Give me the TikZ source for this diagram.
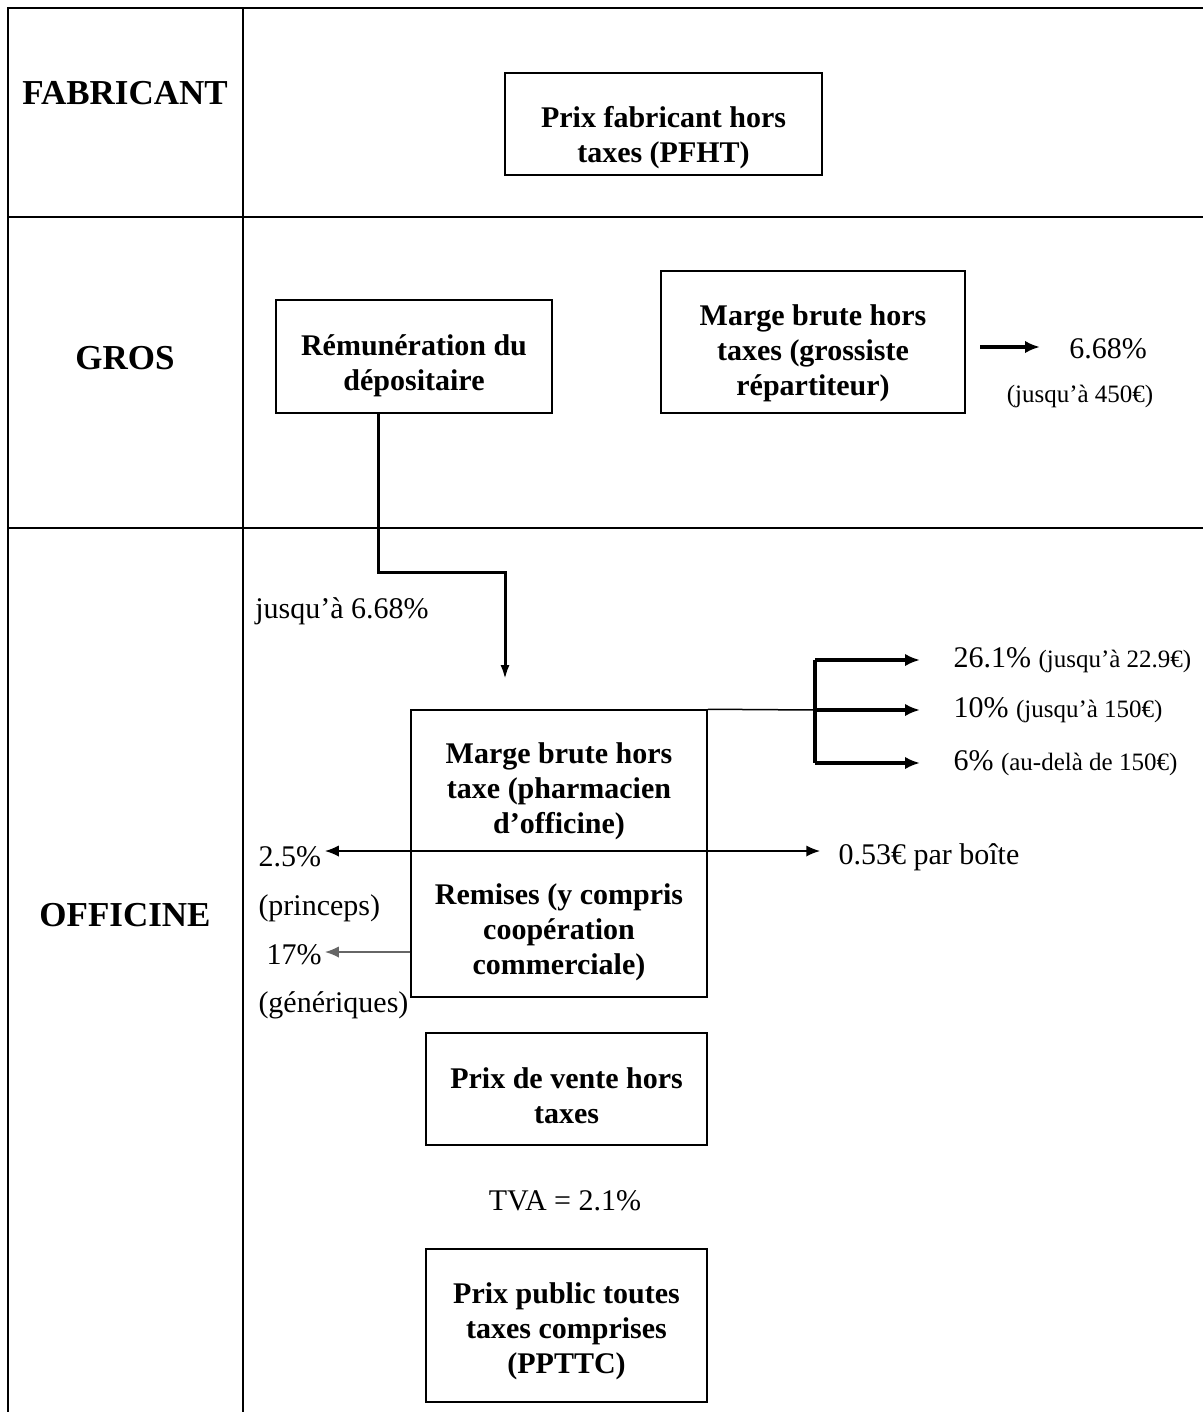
\documentclass[tikz,border=0pt]{standalone}
\usepackage{fontspec}
\setmainfont{Liberation Serif}
\usetikzlibrary{arrows.meta}

\tikzstyle{cell}=[line width=0.6pt]
\tikzstyle{box}=[draw, line width=0.6pt, inner sep=0pt]
\tikzstyle{boxtext}=[inner sep=0pt, align=center, font=\bfseries\fontsize{12}{14}\selectfont]
\tikzstyle{role}=[font=\bfseries\fontsize{14}{16}\selectfont, inner sep=0pt]
\tikzstyle{rate}=[font=\fontsize{12}{14}\selectfont, inner sep=0pt]
\tikzstyle{note}=[font=\fontsize{10}{12}\selectfont, inner sep=0pt]
\tikzstyle{flow}=[line width=1.3pt, -{Latex[length=6pt,width=5pt]}]
\tikzstyle{thinflow}=[line width=0.6pt]

\begin{document}
\begin{tikzpicture}[x=0.4pt, y=-0.4pt, >={Latex[length=5.5pt,width=4.5pt]}]
			\useasboundingbox (0,0) rectangle (1203,1412);
			%The table lines
			\draw[cell] (8,1412) -- (8,8) -- (1203,8);
			\draw[cell] (243,8) -- (243,1412);
			\foreach \y in {217,528}
			\draw[cell] (8,\y) -- (1203,\y);
			%The row titles
			\foreach \pos/\name/\txt in {{(125,93)/fab/FABRICANT}, {(125,358)/gros/GROS}, {(125,915)/offi/OFFICINE}}
			\node[role] (\name) at \pos {\txt};
			%The price boxes
			\node[box, minimum width=126.8pt, minimum height=40.8pt, label={[boxtext, yshift=-5.6pt]center:{Prix fabricant hors\\taxes (PFHT)}}] (pfht) at (663.5,124) {};
			\node[box, minimum width=110.4pt, minimum height=45.2pt, label={[boxtext, yshift=-3.8pt]center:{Rémunération du\\dépositaire}}] (remu) at (414,356.5) {};
			\node[box, minimum width=121.6pt, minimum height=56.8pt, label={[boxtext, yshift=-4.4pt]center:{Marge brute hors\\taxes (grossiste\\répartiteur)}}] (margeG) at (813,342) {};
			\node[box, minimum width=118.4pt, minimum height=56.4pt, label={[boxtext, yshift=-4.4pt]center:{Marge brute hors\\taxe (pharmacien\\d’officine)}}] (margeP) at (559,780.5) {};
			\node[box, minimum width=118.4pt, minimum height=58.4pt, label={[boxtext, yshift=-3.2pt]center:{Remises (y compris\\coopération\\commerciale)}}] (remises) at (559,924) {};
			\node[box, minimum width=112.4pt, minimum height=44.8pt, label={[boxtext, yshift=-2.6pt]center:{Prix de vente hors\\taxes}}] (pvht) at (566.5,1089) {};
			\node[box, minimum width=112.4pt, minimum height=61.2pt, label={[boxtext, yshift=-2.2pt]center:{Prix public toutes\\taxes comprises\\(PPTTC)}}] (ppttc) at (566.5,1325.5) {};
			%Grossiste margin
			\node[rate] (g668) at (1108,349) {6.68\%};
			\node[note] (g450) at (1080,396) {(jusqu’à 450€)};
			\draw[flow] (980,347) -- (1040,347);
			%Depositaire to pharmacien
			\coordinate (bend) at (378,572);
			\coordinate (tip) at (505,680);
			\draw[line width=1.2pt, -{Latex[length=6pt,width=3.6pt]}] (remu.south -| bend) -- (bend) -| (tip);
			\node[rate] (upto) at (342,611) {jusqu’à 6.68\%};
			%Pharmacien margins
			\coordinate (fork) at (815,710);
			\draw[thinflow] (margeP.north east) -- (fork);
			\draw[line width=1.3pt] (815,660) -- (815,763);
			\foreach \y/\name/\pct/\txt in {660/high/26.1\%/{(jusqu’à 22.9€)}, 710/mid/10\%/{(jusqu’à 150€)}, 763/low/6\%/{(au-delà de 150€)}}
			{
				\node[rate, anchor=west] (\name) at (953,\y) {\pct\ {\fontsize{10}{12}\selectfont\txt}};
				\draw[flow] (815,\y) -- (920,\y);
			}
			%Per box and discounts
			\coordinate (l25) at (325,851);
			\coordinate (r053) at (820,851);
			\draw[thinflow, <->] (l25) -- (r053);
			\node[rate, anchor=west] (box053) at (838,857) {0.53€ par boîte};
			\node[rate, anchor=west] (p25) at (258,857) {2.5\%};
			\node[rate, anchor=west] (princ) at (258,908) {(princeps)};
			\coordinate (l17) at (325,952);
			\draw[thinflow, black!60, ->] (remises.west |- l17) -- (l17);
			\node[rate, anchor=west] (p17) at (266,955) {17\%};
			\node[rate, anchor=west] (gene) at (258,1005) {(génériques)};
			%Tax
			\node[rate] (tva) at (565,1201) {TVA = 2.1\%};
		\end{tikzpicture}
\end{document}
